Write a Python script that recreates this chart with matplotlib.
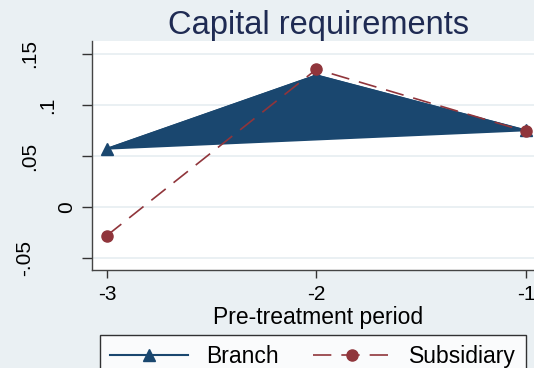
import matplotlib
matplotlib.use("Agg")
import matplotlib.pyplot as plt
from matplotlib.transforms import blended_transform_factory, offset_copy

# data
periods = [-3, -2, -1]
branch = [0.057, 0.129, 0.075]
subsidiary = [-0.028, 0.135, 0.074]

xtick_vals = [-3, -2, -1]
xtick_labels = ["-3", "-2", "-1"]
ytick_vals = [0.15, 0.1, 0.05, 0, -0.05]
ytick_labels = [".15", ".1", ".05", "0", "-.05"]

plt.rcParams['font.family'] = ['Liberation Sans', 'DejaVu Sans']
plt.rcParams['axes.unicode_minus'] = False

navy = '#1A476F'
maroon = '#90353B'
bg = '#EAF0F3'

fig = plt.figure(figsize=(5.34, 3.68), dpi=100, facecolor=bg)
ax = fig.add_axes([92/534, 1 - 270/368, (544 - 92)/534, (270 - 41)/368])
ax.set_facecolor('white')

# branch drawn as a filled area, subsidiary as dashed line
ax.fill(periods, branch, color=navy, lw=1.2, zorder=2)
ax.plot(periods, branch, color=navy, lw=1.5, marker='^', ms=9, zorder=3, label='Branch')
ax.plot(periods, subsidiary, color=maroon, lw=1.2, ls=(0, (11, 6)), marker='o', ms=8,
        zorder=4, label='Subsidiary')

ax.set_xlim(-3.0714, -0.914)
ax.set_ylim(-0.0618, 0.1627)

ax.set_xticks(xtick_vals)
ax.set_xticklabels(xtick_labels, fontsize=15)
ax.set_yticks(ytick_vals)
ax.tick_params(axis='y', labelleft=False, length=7, width=1, color='#333333')
ax.tick_params(axis='x', length=6, width=1, color='#333333', pad=5)
ax.grid(axis='y', color=bg, lw=1.4)
ax.set_axisbelow(True)

for s in ['top', 'right']:
    ax.spines[s].set_visible(False)
for s in ['left', 'bottom']:
    ax.spines[s].set_color('#444444')
    ax.spines[s].set_linewidth(1.0)

# rotated y labels, staggered like the original
trans = blended_transform_factory(ax.transAxes, ax.transData)
label_dx = [-53, -35, -53, -16, -58]
for val, lab, dx in zip(ytick_vals, ytick_labels, label_dx):
    ax.text(0, val, lab, rotation=90, ha='right', va='center', fontsize=15,
            transform=offset_copy(trans, fig=fig, x=dx, units='dots'))

ax.set_xlabel('Pre-treatment period', fontsize=16.5, labelpad=1)
ax.set_title('Capital requirements', fontsize=23.5, color='#1F2B53', pad=0)

leg = fig.legend(loc='upper left', bbox_to_anchor=(100/534, -0.2, 426/534, 0.2 + 1 - 335/368),
                 mode='expand', ncol=2, fontsize=16.5, handlelength=3.4, handletextpad=0.8,
                 borderaxespad=0, frameon=True, fancybox=False, borderpad=0.45)
leg.get_frame().set_edgecolor('black')
leg.get_frame().set_linewidth(1.0)

fig.savefig('out.png', dpi=100, facecolor=bg)
